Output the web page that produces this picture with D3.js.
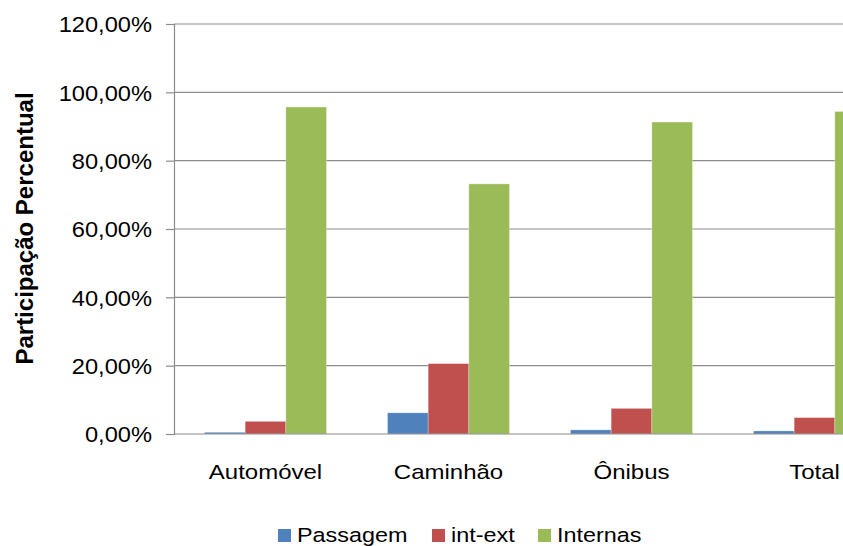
<!DOCTYPE html>
<html>
<head>
<meta charset="utf-8">
<script src="https://cdn.jsdelivr.net/npm/d3@7"></script>
<style>
  html, body { margin: 0; padding: 0; background: #fff; overflow: hidden; }
  svg { display: block; font-family: "Liberation Sans", Arial, sans-serif; }
</style>
</head>
<body>
<svg id="chart" width="843" height="546"></svg>
<script>
// Participação percentual por tipo de veículo e tipo de viagem
const categories = ["Automóvel", "Caminhão", "Ônibus", "Total"];
const seriesNames = ["Passagem", "int-ext", "Internas"];
const passagem = [0.5, 6.2, 1.2, 0.9];
const intExt = [3.7, 20.6, 7.5, 4.8];
const internas = [95.7, 73.2, 91.3, 94.4];
const yTicks = [0, 20, 40, 60, 80, 100, 120];
const colors = ["#4F81BD", "#C0504D", "#9BBB59"];

const seriesValues = [passagem, intExt, internas];

const svg = d3.select("#chart");
const plot = { left: 174, top: 24, bottom: 434, right: 906 };

const y = d3.scaleLinear().domain([0, 120]).range([plot.bottom, plot.top]);
const x0 = d3.scaleBand().domain(categories).range([plot.left, plot.right]).padding(0);
const x1 = d3.scaleBand().domain(seriesNames).range([0, x0.bandwidth()])
  .paddingInner(0).paddingOuter(0.75);
const color = d3.scaleOrdinal().domain(seriesNames).range(colors);

const fmt = v => d3.format(".2f")(v).replace(".", ",") + "%";

// Horizontal gridlines
svg.append("g")
  .selectAll("line")
  .data(yTicks.filter(t => t > 0))
  .join("line")
  .attr("x1", plot.left).attr("x2", 843)
  .attr("y1", d => y(d)).attr("y2", d => y(d))
  .attr("stroke", "#8c8c8c").attr("stroke-width", 1.2);

// Y axis
const yAxis = svg.append("g")
  .attr("transform", `translate(${plot.left},0)`)
  .call(d3.axisLeft(y).tickValues(yTicks).tickFormat(fmt).tickSize(8).tickPadding(14));
yAxis.select(".domain").attr("stroke", "#8c8c8c").attr("stroke-width", 1.2);
yAxis.selectAll(".tick line").attr("stroke", "#8c8c8c").attr("stroke-width", 1.2);
yAxis.selectAll(".tick text")
  .attr("fill", "#000")
  .style("font-size", "21.5px")
  .attr("dy", "0.36em")
  .attr("text-anchor", "end")
  .attr("transform", "scale(1.1,1)")
  .attr("x", -22 / 1.1);

// Bars
const groups = svg.append("g")
  .selectAll("g")
  .data(categories)
  .join("g")
  .attr("transform", d => `translate(${x0(d)},0)`);

groups.selectAll("rect")
  .data((d, i) => seriesNames.map((s, j) => ({ s, v: seriesValues[j][i] })))
  .join("rect")
  .attr("x", d => x1(d.s))
  .attr("width", x1.bandwidth())
  .attr("y", d => y(d.v))
  .attr("height", d => y(0) - y(d.v))
  .attr("fill", d => color(d.s))
  .attr("stroke", "rgba(255,255,255,0.35)")
  .attr("stroke-width", 0.8);

// X axis baseline
const xAxis = svg.append("g")
  .attr("transform", `translate(0,${plot.bottom})`)
  .call(d3.axisBottom(x0).tickSize(0).tickPadding(0));
xAxis.select(".domain").attr("stroke", "#8c8c8c").attr("stroke-width", 1.2)
  .attr("d", `M${plot.left},0H843`);
xAxis.selectAll(".tick text")
  .attr("fill", "#000")
  .style("font-size", "20px")
  .attr("y", 0)
  .attr("dy", 0)
  .attr("transform", "translate(0,45) scale(1.2,1)");

// Y axis title
svg.append("text")
  .attr("transform", `translate(33,${(90 + 367) / 2}) rotate(-90)`)
  .attr("text-anchor", "middle")
  .style("font-size", "24px")
  .style("font-weight", "bold")
  .attr("fill", "#000")
  .text("Participação Percentual");

// Legend
const legendX = [278, 432, 538];
const legend = svg.append("g")
  .selectAll("g")
  .data(seriesNames)
  .join("g")
  .attr("transform", (d, i) => `translate(${legendX[i]},0)`);
legend.append("rect")
  .attr("x", 0).attr("y", 529)
  .attr("width", 13).attr("height", 13)
  .attr("fill", d => color(d));
legend.append("text")
  .attr("transform", "translate(19,542) scale(1.2,1)")
  .style("font-size", "19.5px")
  .attr("fill", "#000")
  .text(d => d);
</script>
</body>
</html>
